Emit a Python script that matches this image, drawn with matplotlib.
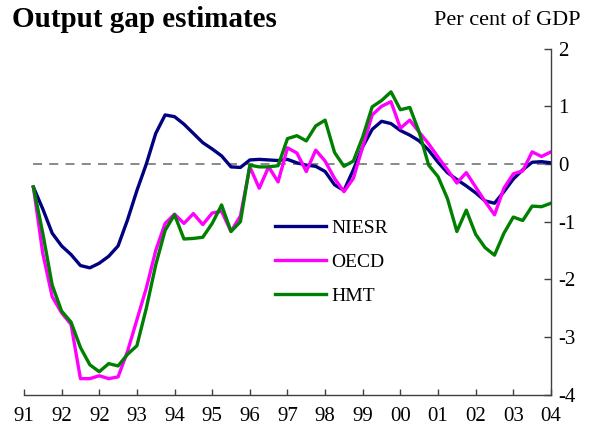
import numpy as np
import matplotlib
matplotlib.use("Agg")
import matplotlib.pyplot as plt

# Quarterly output gap estimates, per cent of GDP
niesr = [-0.40, -0.78, -1.20, -1.42, -1.57, -1.76, -1.80, -1.72, -1.60, -1.42,
         -0.97, -0.46, 0.00, 0.53, 0.85, 0.82, 0.69, 0.53, 0.37, 0.26,
         0.14, -0.05, -0.06, 0.07, 0.08, 0.07, 0.06, 0.08, 0.02, -0.02,
         -0.04, -0.13, -0.36, -0.46, -0.10, 0.30, 0.60, 0.74, 0.70, 0.58,
         0.50, 0.40, 0.24, 0.03, -0.15, -0.27, -0.38, -0.50, -0.64, -0.68,
         -0.48, -0.26, -0.10, 0.03, 0.04, 0.02]
oecd = [-0.40, -1.55, -2.30, -2.58, -2.78, -3.72, -3.72, -3.67, -3.72, -3.69,
        -3.25, -2.70, -2.15, -1.50, -1.03, -0.87, -1.03, -0.86, -1.05, -0.85,
        -0.82, -1.17, -0.90, -0.05, -0.42, -0.05, -0.31, 0.28, 0.19, -0.13,
        0.24, 0.05, -0.25, -0.48, -0.25, 0.30, 0.85, 1.00, 1.08, 0.62,
        0.76, 0.55, 0.35, 0.12, -0.10, -0.33, -0.15, -0.40, -0.65, -0.88,
        -0.42, -0.17, -0.12, 0.21, 0.13, 0.21]
hmt = [-0.40, -1.20, -2.10, -2.55, -2.74, -3.18, -3.48, -3.60, -3.46, -3.50,
       -3.30, -3.15, -2.50, -1.75, -1.15, -0.88, -1.30, -1.29, -1.27, -1.03,
       -0.71, -1.17, -1.00, -0.02, -0.05, -0.05, -0.03, 0.44, 0.49, 0.40,
       0.66, 0.76, 0.20, -0.04, 0.05, 0.47, 0.99, 1.10, 1.25, 0.94,
       0.98, 0.55, -0.02, -0.22, -0.60, -1.17, -0.80, -1.22, -1.45, -1.58,
       -1.20, -0.92, -0.98, -0.73, -0.74, -0.68]
year_labels = ['91', '92', '92', '93', '94', '95', '96', '97', '98', '99',
               '00', '01', '02', '03', '04']
y_ticks = [-4, -3, -2, -1, 0, 1, 2]

plt.rcParams['font.family'] = ['Liberation Serif', 'DejaVu Serif']
plt.rcParams['axes.unicode_minus'] = False

q = np.arange(len(niesr))

fig = plt.figure(figsize=(5.92, 4.30), dpi=100)
ax = fig.add_axes([0.0405, 0.0819, 0.8902, 0.8051])

# zero reference line
ax.hlines(0, q[0], q[-1], colors='#808080', linestyles=(0, (5, 4)), linewidth=1.3)

ax.plot(q, niesr, color='#000080', linewidth=2.4, label='NIESR')
ax.plot(q, oecd, color='#ff00ff', linewidth=2.4, label='OECD')
ax.plot(q, hmt, color='#008000', linewidth=2.4, label='HMT')

ax.set_xlim(-1, len(q) - 1)
ax.set_ylim(-4, 2)

# x ticks every four quarters
ax.set_xticks(np.arange(-1, len(q), 4))
ax.set_xticklabels(year_labels)
ax.set_yticks(y_ticks)

for side in ['left', 'top']:
    ax.spines[side].set_visible(False)
for side in ['right', 'bottom']:
    ax.spines[side].set_color('#404040')
    ax.spines[side].set_linewidth(1.0)

ax.yaxis.tick_right()
ax.tick_params(axis='x', direction='in', length=4, width=1, color='#404040',
               labelsize=15, pad=9)
ax.tick_params(axis='y', direction='in', length=5, width=1, color='#404040',
               labelsize=15, pad=5)

ax.legend(loc='center left', bbox_to_anchor=(0.4645, 0.391),
          bbox_transform=fig.transFigure, frameon=False, fontsize=14,
          handlelength=2.6, handletextpad=0.3, labelspacing=0.85,
          borderpad=0, borderaxespad=0)

fig.text(0.02, 0.955, 'Output gap estimates', fontsize=21, fontweight='bold',
         ha='left', va='center')
fig.text(0.98, 0.953, 'Per cent of GDP', fontsize=16, ha='right', va='center')

fig.savefig('out.png', dpi=100)
